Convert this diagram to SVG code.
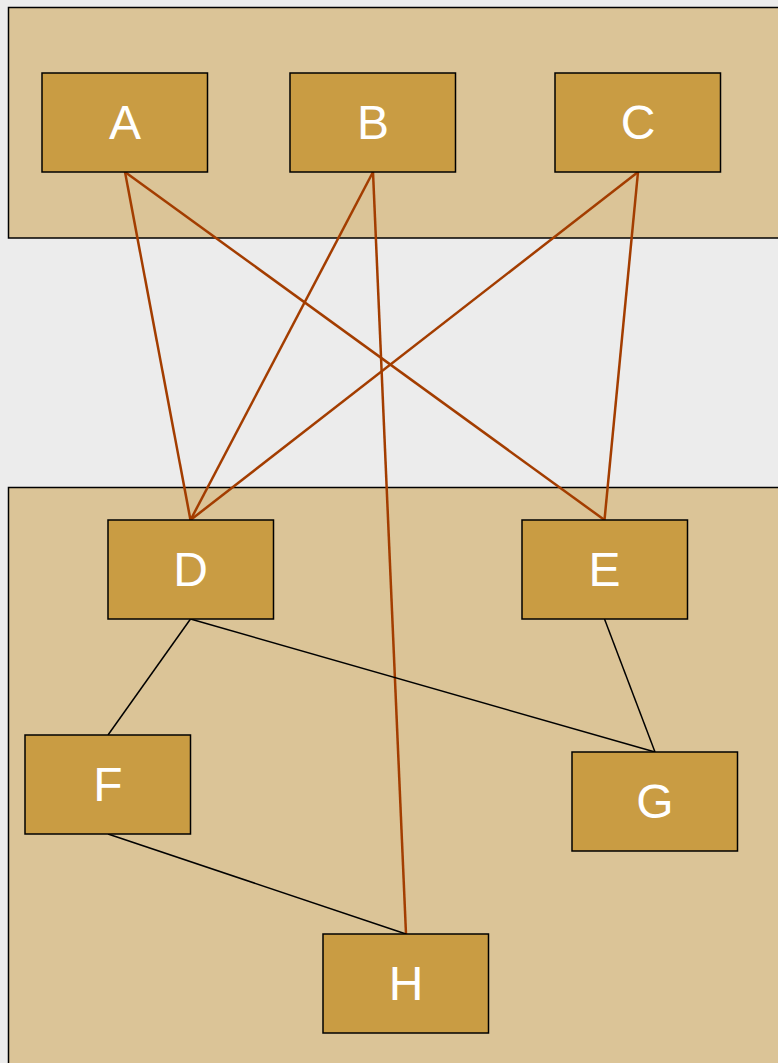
<svg xmlns="http://www.w3.org/2000/svg" width="778" height="1063" viewBox="0 0 778 1063">
<style>
.cont{fill:#dbc497;stroke:#000;stroke-width:1.5}
.node rect{fill:#c99c43;stroke:#000;stroke-width:1.5}
.node text{fill:#fff;font-family:"Liberation Sans",Arial,sans-serif;font-size:48px;text-anchor:middle}
.e1{stroke:#a33d00;stroke-width:2.5;fill:none}
.e2{stroke:#000;stroke-width:1.5;fill:none}
</style>
<rect x="0" y="0" width="778" height="1063" fill="#ececec"/>
<rect class="cont" x="8.5" y="7.5" width="790" height="230.5"/>
<rect class="cont" x="8.5" y="487.5" width="790" height="600"/>
<g id="connectors">
<line class="e1" x1="125" y1="172" x2="190.5" y2="520"/>
<line class="e1" x1="125" y1="172" x2="604.5" y2="520"/>
<line class="e1" x1="373" y1="172" x2="190.5" y2="520"/>
<line class="e1" x1="373" y1="172" x2="406" y2="934"/>
<line class="e1" x1="638" y1="172" x2="190.5" y2="520"/>
<line class="e1" x1="638" y1="172" x2="604.5" y2="520"/>
<line class="e2" x1="190.5" y1="619" x2="108" y2="735"/>
<line class="e2" x1="190.5" y1="619" x2="655" y2="752"/>
<line class="e2" x1="604.5" y1="619" x2="655" y2="752"/>
<line class="e2" x1="108" y1="834" x2="406" y2="934"/>
</g>
<g id="A" class="node"><rect x="42" y="73" width="165.5" height="99"/><text x="125" y="139">A</text></g>
<g id="B" class="node"><rect x="290" y="73" width="165.5" height="99"/><text x="373" y="139">B</text></g>
<g id="C" class="node"><rect x="555" y="73" width="165.5" height="99"/><text x="638" y="139">C</text></g>
<g id="D" class="node"><rect x="108" y="520" width="165.5" height="99"/><text x="190.5" y="586">D</text></g>
<g id="E" class="node"><rect x="522" y="520" width="165.5" height="99"/><text x="604.5" y="586">E</text></g>
<g id="F" class="node"><rect x="25" y="735" width="165.5" height="99"/><text x="108" y="801">F</text></g>
<g id="G" class="node"><rect x="572" y="752" width="165.5" height="99"/><text x="655" y="818">G</text></g>
<g id="H" class="node"><rect x="323" y="934" width="165.5" height="99"/><text x="406" y="1000">H</text></g>
</svg>
